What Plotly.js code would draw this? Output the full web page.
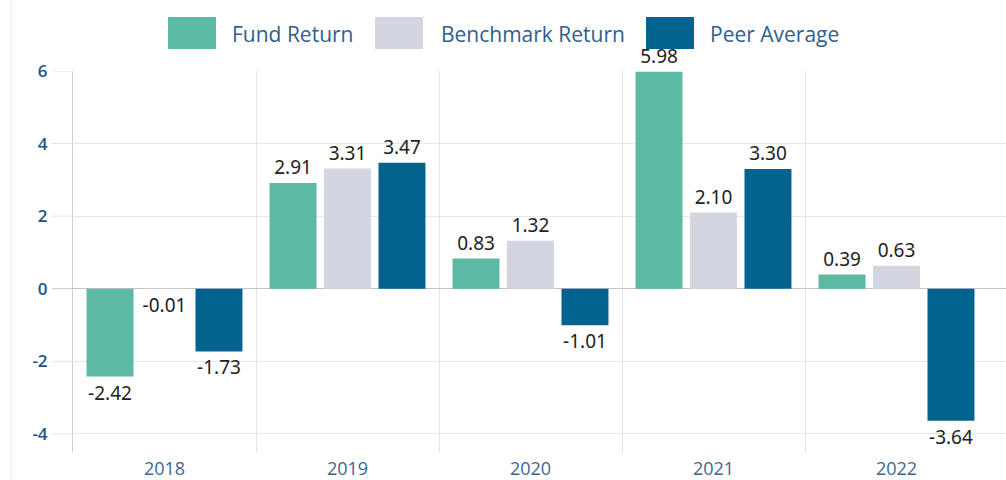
<!DOCTYPE html>
<html>
<head>
<meta charset="utf-8">
<script src="https://cdn.plot.ly/plotly-3.0.1.min.js"></script>
<style>html,body{margin:0;padding:0;background:#fff;overflow:hidden}#chart{width:1006px;height:480px}</style>
</head>
<body>
<div id="chart"></div>
<script>
var years = ['2018', '2019', '2020', '2021', '2022'];
var seriesNames = ['Fund Return', 'Benchmark Return', 'Peer Average'];
var fundReturn = [-2.42, 2.91, 0.83, 5.98, 0.39];
var benchmarkReturn = [-0.01, 3.31, 1.32, 2.10, 0.63];
var peerAverage = [-1.73, 3.47, -1.01, 3.30, -3.64];
var yTicks = [-4, -2, 0, 2, 4, 6];
var yTickLabels = ['-4', '-2', '0', '2', '4', '6'];

var colors = ['#5bb9a4', '#d3d6e1', '#02638f'];
var seriesValues = [fundReturn, benchmarkReturn, peerAverage];

var L = 73, T = 71, W = 1006 - 73, H = 452 - 71;
function px(x) { return (x - L) / W; }
function py(y) { return 1 - (y - T) / H; }

var traces = seriesValues.map(function (vals, i) {
  return {
    type: 'bar', name: seriesNames[i], x: years, y: vals,
    marker: {color: colors[i], line: {width: 0}},
    text: vals.map(function (v) { return v.toFixed(2); }),
    textposition: 'outside', cliponaxis: false,
    textfont: {family: 'Noto Sans, sans-serif', size: 19, color: '#222222'},
    showlegend: false, hoverinfo: 'x+y+name'
  };
});
// empty helper trace so the boundary-grid axis is drawn
traces.push({type: 'scatter', x: [], y: [], xaxis: 'x2', yaxis: 'y', showlegend: false, hoverinfo: 'skip'});

// legend built from series names
var legSq = [168, 375, 646], legTx = [232, 441, 710];
var shapes = [], annotations = [];
seriesNames.forEach(function (n, i) {
  shapes.push({type: 'rect', xref: 'paper', yref: 'paper',
    x0: px(legSq[i]), x1: px(legSq[i] + 48), y0: py(17), y1: py(49),
    fillcolor: colors[i], line: {width: 0}});
  annotations.push({xref: 'paper', yref: 'paper', x: px(legTx[i] - 2), y: py(34),
    xanchor: 'left', yanchor: 'middle', showarrow: false, text: n,
    font: {family: 'Open Sans, sans-serif', size: 21, color: '#30608c'}});
});
// page border on the left
shapes.push({type: 'line', xref: 'paper', yref: 'paper', x0: px(11.5), x1: px(11.5),
  y0: py(0), y1: py(480), line: {color: '#eef7ea', width: 2}});
// short grid extensions left of the y axis
yTicks.forEach(function (v) {
  shapes.push({type: 'line', xref: 'paper', yref: 'y', x0: px(52), x1: px(73), y0: v, y1: v,
    line: {color: v === 0 ? '#c4c4c4' : '#e3e3e3', width: 1}});
});

var xr = [-0.5, -0.5 + W / 183];
var layout = {
  width: 1006, height: 480,
  margin: {l: L, r: 0, t: T, b: 480 - 452, pad: 0},
  paper_bgcolor: '#ffffff', plot_bgcolor: '#ffffff',
  barmode: 'group', bargap: 0.107, bargroupgap: 0.138,
  showlegend: false,
  xaxis: {type: 'category', range: xr, showgrid: false, zeroline: false, showline: false,
    ticks: '', ticklabelstandoff: 4,
    tickfont: {family: 'Open Sans, sans-serif', size: 18, color: '#3a6893'}},
  xaxis2: {overlaying: 'x', type: 'linear', range: xr, tickmode: 'array', tickvals: [0.5, 1.5, 2.5, 3.5],
    showgrid: true, gridcolor: '#e3e3e3', gridwidth: 1, showticklabels: false, ticks: '',
    zeroline: false, showline: false, side: 'bottom'},
  yaxis: {range: [-4.5, 6], tickmode: 'array', tickvals: yTicks, ticktext: yTickLabels,
    showgrid: true, gridcolor: '#e6e6e6', gridwidth: 1,
    zeroline: true, zerolinecolor: '#c4c4c4', zerolinewidth: 1,
    showline: true, linecolor: '#cfcfcf', linewidth: 1,
    ticks: '', ticklabelstandoff: 21,
    tickfont: {family: 'Open Sans, sans-serif', size: 17, color: '#24527f', weight: 600}},
  shapes: shapes, annotations: annotations
};

Plotly.newPlot('chart', traces, layout, {displayModeBar: false, staticPlot: true});
</script>
</body>
</html>
